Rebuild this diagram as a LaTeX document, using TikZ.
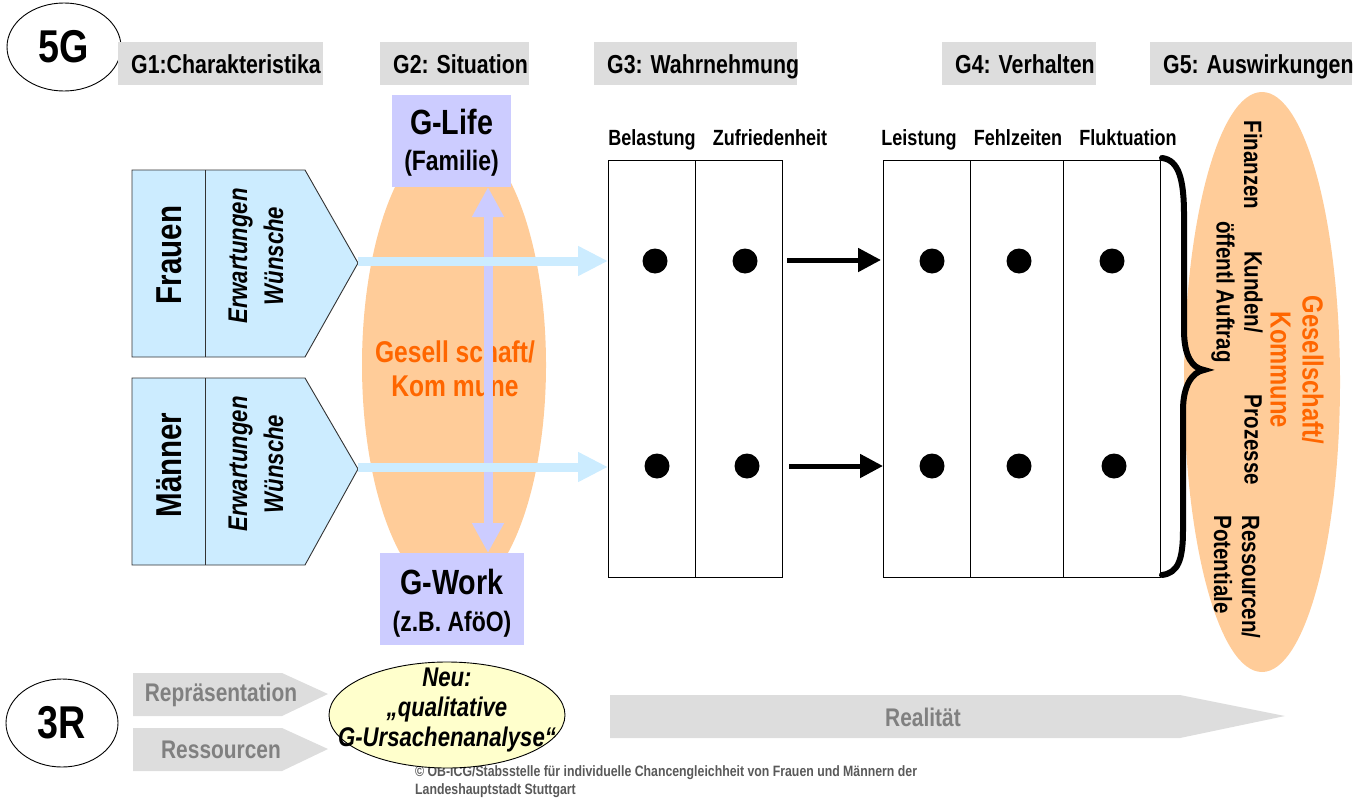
\documentclass[tikz,border=0pt]{standalone}
\usepackage{fontspec}
\setmainfont{Liberation Sans}[FakeStretch=0.82]
\usetikzlibrary{arrows.meta,shapes.geometric}

\definecolor{hdrgray}{HTML}{DDDDDD}
\definecolor{lav}{HTML}{CCCCFF}
\definecolor{skyb}{HTML}{CCECFF}
\definecolor{peach}{HTML}{FFCC99}
\definecolor{orangeT}{HTML}{FF6600}
\definecolor{paleyel}{HTML}{FFFFCC}
\definecolor{txtgray}{HTML}{808080}
\definecolor{footgray}{HTML}{595959}
\definecolor{edgegray}{HTML}{333333}

\newcommand{\fs}[2]{\fontsize{#1}{#2}\selectfont}

\tikzset{
  hdrbox/.style={fill=hdrgray, anchor=north west, minimum height=43pt, inner xsep=13pt, inner ysep=0pt,
    text height=19pt, text depth=0pt},
  gbox/.style={fill=lav, inner sep=0pt},
  pent/.style={fill=skyb, draw=edgegray, line width=0.9pt, line join=miter},
  grayarrow/.style={fill=hdrgray},
  colhead/.style={anchor=base, font=\bfseries\fs{22}{26}},
  dot/.style={circle, fill=black, minimum size=25pt, inner sep=0pt},
  table/.style={draw=black, line width=1pt},
  blackarrow/.style={line width=5pt, -{Triangle[length=23pt,width=23pt]}},
  bluearrow/.style={draw=skyb, line width=9pt, -{Triangle[length=30pt,width=28pt]}},
  lavarrow/.style={draw=lav, line width=9pt, {Triangle[length=30pt,width=30pt]}-{Triangle[length=30pt,width=30pt]}},
  bigoval/.style={draw=black, line width=0.9pt, ellipse, inner sep=0pt, font=\bfseries\fs{46}{50}},
  sidetext/.style={rotate=-90, font=\bfseries\fs{25}{28}},
  graytext/.style={text=txtgray, font=\bfseries\fs{25.5}{30}}
}

\begin{document}
\begin{tikzpicture}[x=1pt,y=-1pt]
\useasboundingbox (0,0) rectangle (1356,800);

% ---------- 5G row of headings ----------
\node[bigoval, minimum width=114pt, minimum height=88pt] (fiveg) at (64,47) {5G};
\node[hdrbox, minimum width=205pt] (g1) at (118,42) {\makebox[179pt][l]{\bfseries\fs{26}{30}G1:Charakteristika}};
\node[hdrbox, minimum width=149pt] (g2) at (380,42) {\makebox[123pt][l]{\bfseries\fs{26}{30}G2: Situation}};
\node[hdrbox, minimum width=203pt] (g3) at (594,42) {\makebox[177pt][l]{\bfseries\fs{26}{30}G3: Wahrnehmung}};
\node[hdrbox, minimum width=154pt] (g4) at (942,42) {\makebox[128pt][l]{\bfseries\fs{26}{30}G4: Verhalten}};
\node[hdrbox, minimum width=202pt] (g5) at (1150,42) {\makebox[176pt][l]{\bfseries\fs{26}{30}G5: Auswirkungen}};

% ---------- G2: society ellipse with life/work ----------
\fill[peach] (454,365) ellipse [x radius=92pt, y radius=232pt];
\node[text=orangeT, align=center, font=\bfseries\fs{30}{34}] (gesell) at (455,369) {Gesell schaft/\\Kom mune};

\node[gbox, minimum width=119pt, minimum height=92pt] (glife) at (451.5,141) {};
\node[font=\bfseries\fs{35}{40}] (glifet) at (451.5,122) {G-Life};
\node[font=\bfseries\fs{28}{30}] (glifes) at (451.5,163) {(Familie)};
\node[gbox, minimum width=144pt, minimum height=92pt] (gwork) at (452,599) {};
\node[font=\bfseries\fs{35}{40}] (gworkt) at (452,582) {G-Work};
\node[font=\bfseries\fs{28}{30}] (gworks) at (452,624) {(z.B. AföO)};

\coordinate (lifeend) at (488,187);
\coordinate (workend) at (488,553);
\draw[lavarrow] (lifeend) -- (workend);

% ---------- G1: women / men ----------
\draw[pent] (132,170) -- (305,170) -- (358,263) -- (305,357) -- (132,357) -- cycle;
\draw[draw=edgegray, line width=0.9pt] (205,170) -- (205,357);
\node[rotate=90, font=\bfseries\fs{36}{40}] (frauen) at (169,255) {Frauen};
\node[rotate=90, align=center, font=\bfseries\itshape\fs{27}{36}] (fwunsch) at (256,256) {Erwartungen\\Wünsche};
\coordinate (ftip) at (358,263);

\draw[pent] (132,378) -- (305,378) -- (358,469) -- (305,565) -- (132,565) -- cycle;
\draw[draw=edgegray, line width=0.9pt] (205,378) -- (205,565);
\node[rotate=90, font=\bfseries\fs{36}{40}] (maenner) at (169,465) {Männer};
\node[rotate=90, align=center, font=\bfseries\itshape\fs{27}{36}] (mwunsch) at (256,464) {Erwartungen\\Wünsche};
\coordinate (mtip) at (358,467);

% ---------- G3: perception table ----------
\draw[table] (608,160) rectangle (782,577);
\draw[table] (695,160) -- (695,577);
\coordinate (g3in1) at (608,261);
\coordinate (g3in2) at (608,467);
\draw[bluearrow] (ftip |- g3in1) -- (g3in1);
\draw[bluearrow] (mtip) -- (g3in2);

\node[colhead] (belast) at (652,145) {Belastung};
\node[colhead] (zufr) at (770,145) {Zufriedenheit};

\node[dot] (d11) at (655,261) {};
\node[dot] (d12) at (745,261) {};
\node[dot] (d21) at (657,466) {};
\node[dot] (d22) at (747,466) {};

% ---------- G4: behaviour table ----------
\draw[table] (883,160) rectangle (1160,577);
\draw[table] (970,160) -- (970,577);
\draw[table] (1063,160) -- (1063,577);

\node[colhead] (leist) at (919,145) {Leistung};
\node[colhead] (fehl) at (1018,145) {Fehlzeiten};
\node[colhead] (flukt) at (1128,145) {Fluktuation};

\node[dot] (d13) at (932,261) {};
\node[dot] (d14) at (1019,261) {};
\node[dot] (d15) at (1112,261) {};
\node[dot] (d23) at (932,466) {};
\node[dot] (d24) at (1019,466) {};
\node[dot] (d25) at (1114,466) {};

\coordinate (a1s) at (787,260);
\coordinate (a1e) at (881,260);
\coordinate (a2s) at (789,466);
\coordinate (a2e) at (883,466);
\draw[blackarrow] (a1s) -- (a1e);
\draw[blackarrow] (a2s) -- (a2e);

% ---------- G5: effects ----------
\fill[peach] (1262,382) ellipse [x radius=78pt, y radius=290pt];
\draw[line width=6pt, line cap=round, line join=miter] (1162,158)
  .. controls (1179,160) and (1184,180) .. (1184,215) -- (1184,330)
  .. controls (1184,356) and (1192,368) .. (1204,370)
  .. controls (1192,372) and (1183,386) .. (1183,410) -- (1183,530)
  .. controls (1183,560) and (1178,573) .. (1162,575);

\node[sidetext] (finanz) at (1253,165) {Finanzen};
\node[sidetext, align=center] (kunden) at (1237,292) {Kunden/\\öffentl Auftrag};
\node[sidetext] (prozess) at (1253,440) {Prozesse};
\node[sidetext, align=left, anchor=west] (ressourc) at (1237,512) {Ressourcen/\\Potentiale};
\node[rotate=-90, align=center, text=orangeT, font=\bfseries\fs{29}{32}] (gesellK) at (1297,370) {Gesellschaft/\\Kommune};

% ---------- 3R row ----------
\node[bigoval, minimum width=112pt, minimum height=88pt] (threer) at (62,723) {3R};

\fill[grayarrow] (133,673) -- (282,673) -- (328,694) -- (282,716) -- (133,716) -- cycle;
\node[graytext] (repr) at (221,695) {Repräsentation};
\fill[grayarrow] (133,728) -- (282,728) -- (328,749) -- (282,771) -- (133,771) -- cycle;
\node[graytext] (ressour) at (221,750) {Ressourcen};

\fill[grayarrow] (610,695) -- (1180,695) -- (1285,716) -- (1180,738) -- (610,738) -- cycle;
\node[graytext] (real) at (923,717) {Realität};

\node[anchor=north west, align=left, text=footgray, font=\bfseries\fs{15}{18}, inner sep=0pt] (foot) at (415,765)
  {© OB-ICG/Stabsstelle für individuelle Chancengleichheit von Frauen und Männern der\\Landeshauptstadt Stuttgart};

% new analysis approach
\filldraw[fill=paleyel, draw=black, line width=0.9pt] (447,715) ellipse [x radius=118pt, y radius=53pt];
\node[align=center, font=\bfseries\itshape\fs{27}{30}] (neu) at (447,710)
  {Neu:\\„qualitative\\G-Ursachenanalyse“};
\end{tikzpicture}
\end{document}
